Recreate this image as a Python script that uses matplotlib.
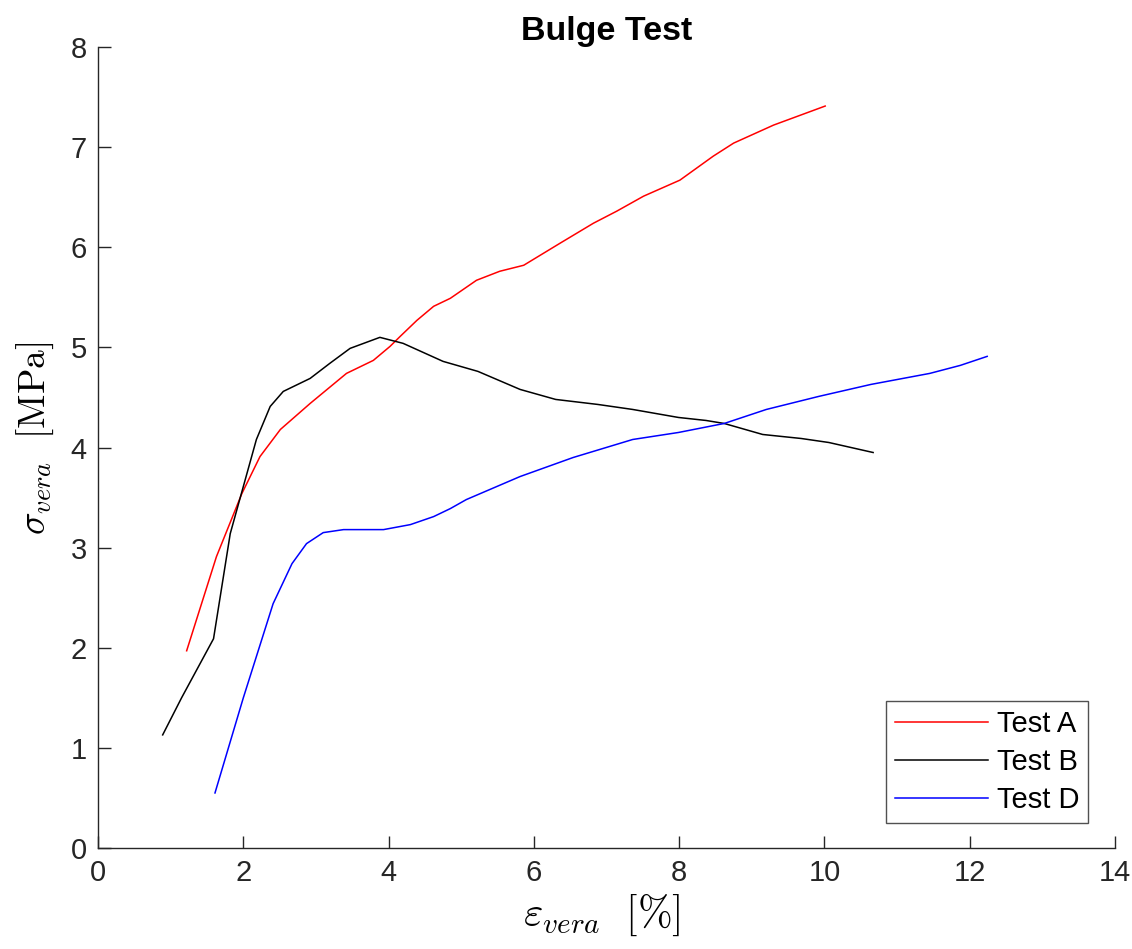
import numpy as np
import matplotlib
matplotlib.use('Agg')
import matplotlib.pyplot as plt

# Curve data (strain %, stress MPa)
a_x = [1.22, 1.63, 1.98, 2.23, 2.51, 2.92, 3.42, 3.79, 4.02, 4.16, 4.39, 4.62, 4.85, 5.21, 5.53,
       5.86, 6.36, 6.82, 7.14, 7.51, 8.01, 8.47, 8.75, 9.30, 10.01]
a_y = [1.97, 2.91, 3.54, 3.91, 4.18, 4.44, 4.74, 4.87, 5.01, 5.11, 5.27, 5.41, 5.49, 5.67, 5.76,
       5.82, 6.04, 6.24, 6.36, 6.51, 6.67, 6.91, 7.04, 7.22, 7.41]

b_x = [0.89, 1.15, 1.59, 1.82, 2.00, 2.18, 2.37, 2.55, 2.92, 3.19, 3.47, 3.88, 4.20, 4.75, 5.23,
       5.81, 6.30, 6.88, 7.36, 7.99, 8.37, 8.62, 9.15, 9.68, 10.06, 10.67]
b_y = [1.13, 1.50, 2.09, 3.14, 3.61, 4.08, 4.41, 4.56, 4.69, 4.84, 4.99, 5.10, 5.04, 4.86, 4.76,
       4.58, 4.48, 4.43, 4.38, 4.30, 4.27, 4.24, 4.13, 4.09, 4.05, 3.95]

d_x = [1.61, 2.00, 2.41, 2.67, 2.87, 3.10, 3.38, 3.93, 4.30, 4.62, 4.85, 5.07, 5.81, 6.54, 7.36,
       7.99, 8.62, 9.20, 9.92, 10.64, 11.45, 11.87, 12.24]
d_y = [0.55, 1.50, 2.44, 2.84, 3.04, 3.15, 3.18, 3.18, 3.23, 3.31, 3.39, 3.48, 3.71, 3.90, 4.08,
       4.15, 4.24, 4.38, 4.51, 4.63, 4.74, 4.82, 4.91]

labels = ['Test A', 'Test B', 'Test D']
colors = ['#ff0000', '#000000', '#0000ff']

plt.rcParams['font.family'] = ['Liberation Sans', 'DejaVu Sans']
plt.rcParams['mathtext.fontset'] = 'cm'

fig = plt.figure(figsize=(11.32, 9.49), dpi=100)
ax = fig.add_axes([0.0866, 0.1064, 0.8984, 0.8441])

for xs, ys, lab, col in zip([a_x, b_x, d_x], [a_y, b_y, d_y], labels, colors):
    ax.plot(xs, ys, color=col, lw=1.1, label=lab)

ax.set_xlim(0, 14)
ax.set_ylim(0, 8)
ax.set_xticks(np.arange(0, 15, 2))
ax.set_yticks(np.arange(0, 9, 1))
ax.spines['top'].set_visible(False)
ax.spines['right'].set_visible(False)
for s in ['left', 'bottom']:
    ax.spines[s].set_color('#262626')
    ax.spines[s].set_linewidth(1.0)
ax.tick_params(direction='in', length=9, width=1.0, color='#262626',
               labelsize=21, labelcolor='#262626', pad=8)

ax.set_title('Bulge Test', fontsize=24.5, fontweight='bold', pad=4)
ax.set_xlabel(r'$\varepsilon_{vera}\ \ [\%]$', fontsize=30)
ax.set_ylabel(r'$\sigma_{vera}\ \ [\mathrm{MPa}]$', fontsize=27)
ax.xaxis.set_label_coords(0.4956, -0.056)
ax.yaxis.set_label_coords(-0.041, 0.512)

leg = ax.legend(loc='lower right', fontsize=21, frameon=True, fancybox=False,
                edgecolor='#262626', handlelength=3.2, handletextpad=0.3,
                borderpad=0.3, labelspacing=0.35, borderaxespad=0,
                bbox_to_anchor=(0.9735, 0.031))
leg.get_frame().set_linewidth(1.0)

fig.savefig('out.png', dpi=100, facecolor='white')
